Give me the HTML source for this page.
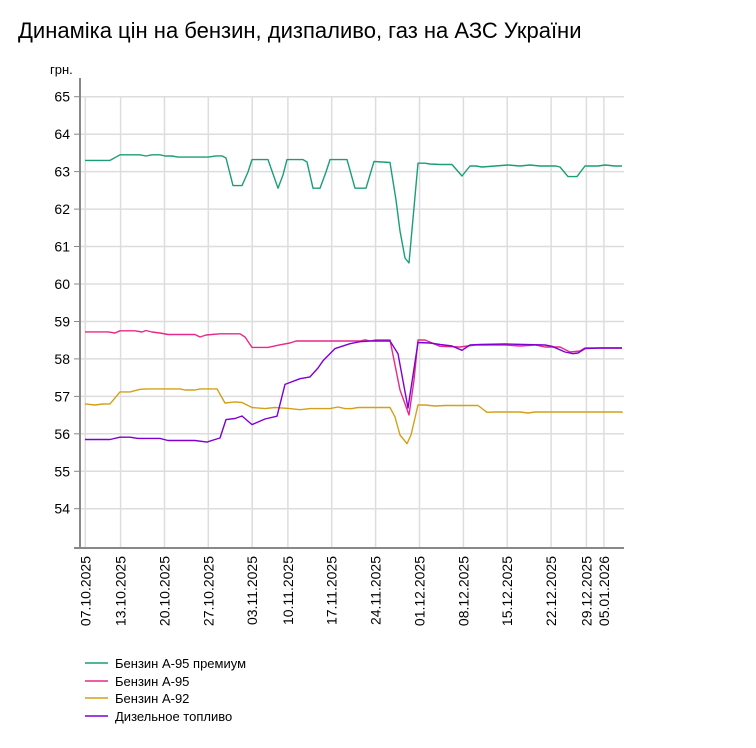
<!DOCTYPE html>
<html><head><meta charset="utf-8"><style>
body{margin:0;background:#fff;width:756px;height:743px;overflow:hidden;font-family:"Liberation Sans",sans-serif}
</style></head><body>
<svg width="756" height="743" xmlns="http://www.w3.org/2000/svg" font-family="Liberation Sans, sans-serif">
<text x="18" y="38" font-size="22" fill="#000">Динаміка цін на бензин, дизпаливо, газ на АЗС України</text>
<text x="50" y="74" font-size="13" fill="#000">грн.</text>
<g stroke="#ddd" stroke-width="1.5">
<line x1="80" y1="96.7" x2="624" y2="96.7"/><line x1="80" y1="134.2" x2="624" y2="134.2"/><line x1="80" y1="171.6" x2="624" y2="171.6"/><line x1="80" y1="209.1" x2="624" y2="209.1"/><line x1="80" y1="246.5" x2="624" y2="246.5"/><line x1="80" y1="284" x2="624" y2="284"/><line x1="80" y1="321.5" x2="624" y2="321.5"/><line x1="80" y1="358.9" x2="624" y2="358.9"/><line x1="80" y1="396.4" x2="624" y2="396.4"/><line x1="80" y1="433.8" x2="624" y2="433.8"/><line x1="80" y1="471.3" x2="624" y2="471.3"/><line x1="80" y1="508.7" x2="624" y2="508.7"/>
<line x1="85.3" y1="96" x2="85.3" y2="548"/><line x1="120.6" y1="96" x2="120.6" y2="548"/><line x1="164.5" y1="96" x2="164.5" y2="548"/><line x1="208.3" y1="96" x2="208.3" y2="548"/><line x1="252.2" y1="96" x2="252.2" y2="548"/><line x1="287.9" y1="96" x2="287.9" y2="548"/><line x1="331.7" y1="96" x2="331.7" y2="548"/><line x1="375.6" y1="96" x2="375.6" y2="548"/><line x1="419.5" y1="96" x2="419.5" y2="548"/><line x1="463.4" y1="96" x2="463.4" y2="548"/><line x1="507.2" y1="96" x2="507.2" y2="548"/><line x1="551.1" y1="96" x2="551.1" y2="548"/><line x1="586.4" y1="96" x2="586.4" y2="548"/><line x1="603.9" y1="96" x2="603.9" y2="548"/>
</g>
<g stroke="#888" stroke-width="2"><line x1="80" y1="78" x2="80" y2="549"/><line x1="74" y1="548" x2="624" y2="548"/></g>
<g stroke="#888" stroke-width="1">
<line x1="74" y1="96.7" x2="80" y2="96.7"/><line x1="74" y1="134.2" x2="80" y2="134.2"/><line x1="74" y1="171.6" x2="80" y2="171.6"/><line x1="74" y1="209.1" x2="80" y2="209.1"/><line x1="74" y1="246.5" x2="80" y2="246.5"/><line x1="74" y1="284" x2="80" y2="284"/><line x1="74" y1="321.5" x2="80" y2="321.5"/><line x1="74" y1="358.9" x2="80" y2="358.9"/><line x1="74" y1="396.4" x2="80" y2="396.4"/><line x1="74" y1="433.8" x2="80" y2="433.8"/><line x1="74" y1="471.3" x2="80" y2="471.3"/><line x1="74" y1="508.7" x2="80" y2="508.7"/>
</g>
<g font-size="14" fill="#000" text-anchor="end">
<text x="70" y="101.7">65</text><text x="70" y="139.2">64</text><text x="70" y="176.6">63</text><text x="70" y="214.1">62</text><text x="70" y="251.5">61</text><text x="70" y="289">60</text><text x="70" y="326.5">59</text><text x="70" y="363.9">58</text><text x="70" y="401.4">57</text><text x="70" y="438.8">56</text><text x="70" y="476.3">55</text><text x="70" y="513.7">54</text>
</g>
<g font-size="14" fill="#000" text-anchor="end">
<text transform="translate(90.3,556) rotate(-90)">07.10.2025</text>
<text transform="translate(125.6,556) rotate(-90)">13.10.2025</text>
<text transform="translate(169.5,556) rotate(-90)">20.10.2025</text>
<text transform="translate(213.3,556) rotate(-90)">27.10.2025</text>
<text transform="translate(257.2,556) rotate(-90)">03.11.2025</text>
<text transform="translate(292.9,556) rotate(-90)">10.11.2025</text>
<text transform="translate(336.7,556) rotate(-90)">17.11.2025</text>
<text transform="translate(380.6,556) rotate(-90)">24.11.2025</text>
<text transform="translate(424.5,556) rotate(-90)">01.12.2025</text>
<text transform="translate(468.4,556) rotate(-90)">08.12.2025</text>
<text transform="translate(512.2,556) rotate(-90)">15.12.2025</text>
<text transform="translate(556.1,556) rotate(-90)">22.12.2025</text>
<text transform="translate(591.4,556) rotate(-90)">29.12.2025</text>
<text transform="translate(608.9,556) rotate(-90)">05.01.2026</text>
</g>
<g fill="none" stroke-width="1.4" stroke-linejoin="round">
<polyline stroke="#1a9e77" points="85,160.4 110,160.4 120,154.8 140,154.8 146,156 152,154.8 160,154.8 165,156 172,156 178,157.1 208,157.1 216,155.9 222,155.9 226,158 233,185.6 242,185.6 248,172 252,159.6 268,159.6 278,188.2 283,175 287,159.6 303,159.6 307,162 313,188.2 320,188.2 326,172 330,159.6 347,159.6 355,188.2 366,188.2 374,161.5 382,162 390,162.5 396,200 400,231 405,258 409,263 418,163.2 425,163.2 430,164 440,164.5 452,164.5 462,176 470,166 476,166 482,167 495,166 508,165 520,166 530,165 540,166 556,166 560,167 568,176.6 577,176.6 585,166 598,166 605,165 615,166 622,166"/>
<polyline stroke="#e7298a" points="85,331.9 108,331.9 115,333 120,330.8 135,330.8 142,332 146,330.5 152,332 160,333 168,334.5 195,334.5 200,337 206,335 220,333.8 240,333.8 245,337 252,347.4 268,347.4 280,344.8 290,343 296,341 360,341 365,339.8 370,341 375,340 390,340 400,390 409,415 414,380 418,340 425,340 440,346.3 460,347 475,345 505,345 520,346 535,345 545,347 560,347 570,352 580,351 585,348 600,348 622,348"/>
<polyline stroke="#d95f02" stroke-opacity="0" points="0,0"/>
<polyline stroke="#d4a017" points="85,403.9 95,405 103,404 110,403.9 120,391.9 130,391.9 140,389.3 148,388.9 180,388.9 185,390 195,390 200,388.9 217,388.9 225,403 235,401.9 242,402.5 252,407.5 265,408.6 275,407.5 290,408.6 300,409.7 310,408.6 330,408.6 338,407 345,408.6 352,408.6 358,407.5 390,407.5 395,416.9 400,435 407,443.7 411,435 418,405 425,405 435,406 445,405.5 478,405.5 487,412.3 495,412 520,412 528,413 535,412 622,412 622,413"/>
<polyline stroke="#7f00d4" points="85,439.5 110,439.5 120,437.2 130,437.2 138,438.4 160,438.4 168,440.5 195,440.5 207,442.1 215,439.5 220,438 226,419.6 235,418.5 242,416 252,424.6 265,419 277,416.2 285,384.4 300,378.7 310,376.9 318,368 323,360.8 335,348.6 350,343.7 360,341.7 370,341 390,341 398,353.7 408,408 418,342.5 430,343 440,344.5 452,346 462,350.3 470,345 480,344.5 505,344 545,345 552,346.3 565,352 573,353.7 578,353 585,348.6 600,348 622,348"/>
</g>
<g stroke-width="1.5">
<line x1="85" y1="663" x2="108" y2="663" stroke="#1a9e77"/>
<line x1="85" y1="681" x2="108" y2="681" stroke="#e7298a"/>
<line x1="85" y1="698" x2="108" y2="698" stroke="#d4a017"/>
<line x1="85" y1="716" x2="108" y2="716" stroke="#7f00d4"/>
</g>
<g font-size="13" fill="#000">
<text x="115" y="668">Бензин А-95 премиум</text>
<text x="115" y="686">Бензин А-95</text>
<text x="115" y="703">Бензин А-92</text>
<text x="115" y="721">Дизельное топливо</text>
</g>
</svg>
</body></html>
